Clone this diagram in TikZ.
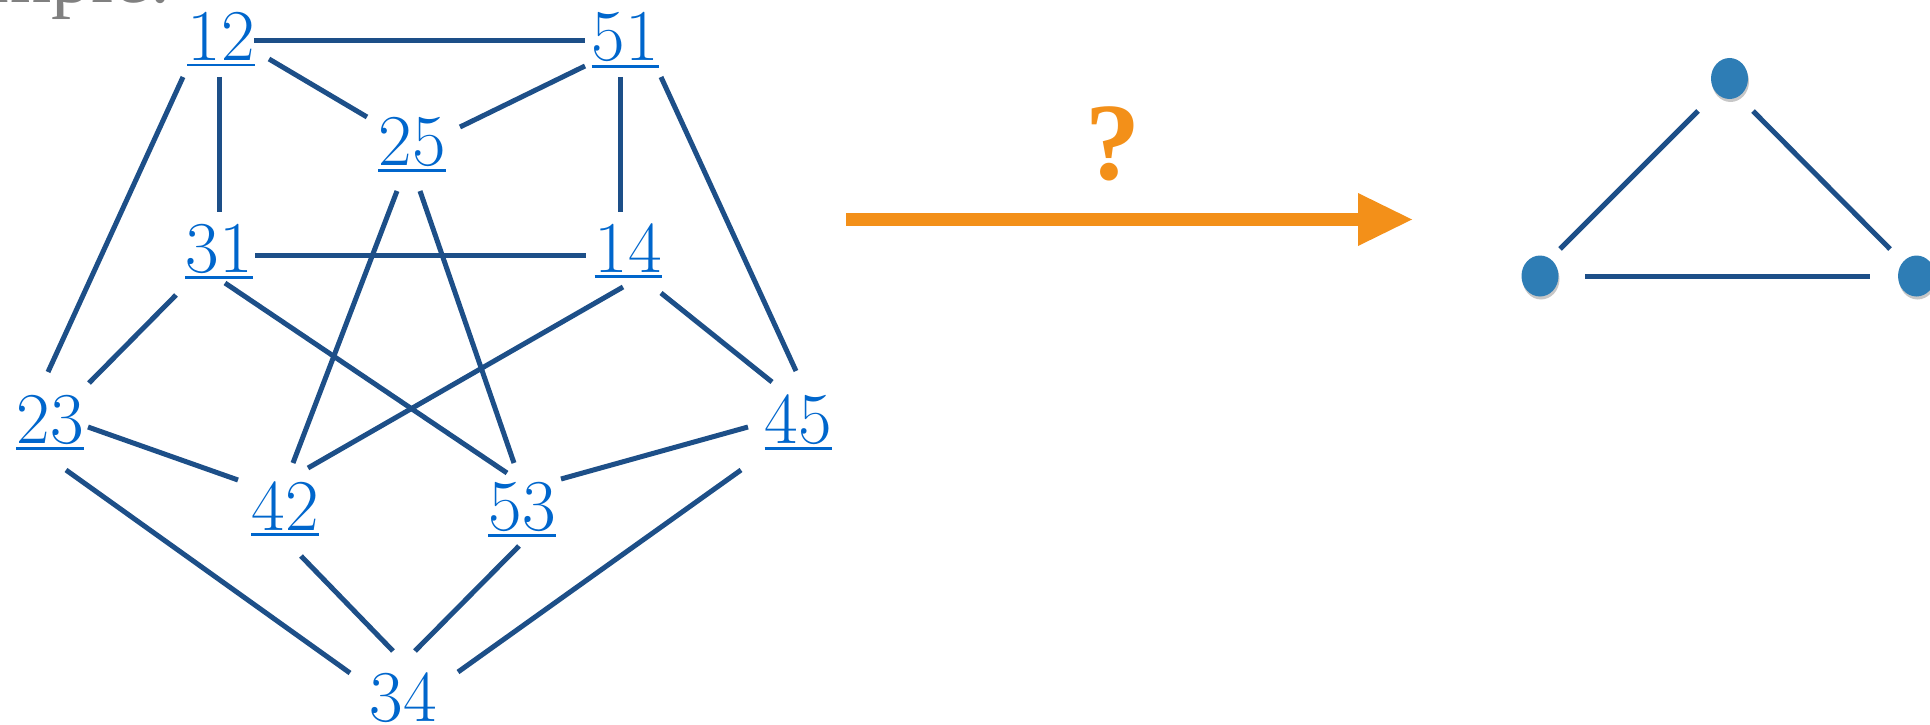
\documentclass[tikz,border=0pt]{standalone}
\usepackage{fontspec}
\usetikzlibrary{shapes.geometric,shadows}
\newfontfamily\qfont{Liberation Serif}
\definecolor{lblue}{HTML}{0066CC}
\definecolor{eblue}{HTML}{1D4F88}
\definecolor{dblue}{HTML}{2E7DB5}
\definecolor{aorange}{HTML}{F39019}
\definecolor{graytxt}{HTML}{808080}
\newcommand{\ulbl}[1]{\vtop{\hbox{#1}\kern3pt\hrule height 2.5pt}}
\begin{document}
\begin{tikzpicture}[x=1pt,y=-1pt,
  lbl/.style={inner sep=0pt, anchor=base, text=lblue, font=\fontsize{73}{80}\selectfont},
  edge/.style={draw=eblue, line width=5pt},
  dot/.style={ellipse, fill=dblue, minimum width=37pt, minimum height=41pt, inner sep=0pt,
    drop shadow={shadow xshift=1pt, shadow yshift=-3pt, opacity=0.22, fill=black}},
]
\useasboundingbox (0,0) rectangle (1930,725);
% cropped title
\node[anchor=base east, inner sep=0pt, text=graytxt, font=\qfont\fontsize{80}{88}\selectfont] (ex) at (172,3) {Example:};
% labels
\node[lbl] (n12) at (221,61) {\ulbl{12}};
\node[lbl] (n51) at (625,61) {\ulbl{51}};
\node[lbl] (n25) at (412,165) {\ulbl{25}};
\node[lbl] (n31) at (219,272) {\ulbl{31}};
\node[lbl] (n14) at (628,272) {\ulbl{14}};
\node[lbl] (n23) at (50,443) {\ulbl{23}};
\node[lbl] (n45) at (798,443) {\ulbl{45}};
\node[lbl] (n42) at (285,530) {\ulbl{42}};
\node[lbl] (n53) at (522,530) {\ulbl{53}};
\node[lbl] (n34) at (403,721) {34};
% edges
\draw[edge] ([shift={(33,-20)}]n12.base) -- ([shift={(-40,-20)}]n51.base);
\draw[edge] ([shift={(48,-2)}]n12.base) -- ([shift={(-45,-48)}]n25.base);
\draw[edge] ([shift={(-40,5)}]n51.base) -- ([shift={(48,-38)}]n25.base);
\draw[edge] ([shift={(-2,16)}]n12.base) -- ([shift={(0,-60)}]n31.base);
\draw[edge] ([shift={(-5,16)}]n51.base) -- ([shift={(-8,-60)}]n14.base);
\draw[edge] ([shift={(-38,16)}]n12.base) -- ([shift={(-2,-71)}]n23.base);
\draw[edge] ([shift={(36,16)}]n51.base) -- ([shift={(-2,-72)}]n45.base);
\draw[edge] ([shift={(36,-17)}]n31.base) -- ([shift={(-42,-17)}]n14.base);
\draw[edge] ([shift={(-15,26)}]n25.base) -- ([shift={(8,-67)}]n42.base);
\draw[edge] ([shift={(8,26)}]n25.base) -- ([shift={(-8,-67)}]n53.base);
\draw[edge] ([shift={(-43,23)}]n31.base) -- ([shift={(39,-60)}]n23.base);
\draw[edge] ([shift={(6,11)}]n31.base) -- ([shift={(-15,-57)}]n53.base);
\draw[edge] ([shift={(-5,15)}]n14.base) -- ([shift={(23,-62)}]n42.base);
\draw[edge] ([shift={(33,21)}]n14.base) -- ([shift={(-26,-61)}]n45.base);
\draw[edge] ([shift={(38,-16)}]n23.base) -- ([shift={(-47,-50)}]n42.base);
\draw[edge] ([shift={(-50,-16)}]n45.base) -- ([shift={(39,-51)}]n53.base);
\draw[edge] ([shift={(16,27)}]n23.base) -- ([shift={(-53,-48)}]n34.base);
\draw[edge] ([shift={(16,26)}]n42.base) -- ([shift={(-10,-70)}]n34.base);
\draw[edge] ([shift={(-3,16)}]n53.base) -- ([shift={(12,-70)}]n34.base);
\draw[edge] ([shift={(-57,27)}]n45.base) -- ([shift={(55,-49)}]n34.base);
% arrow
\node[inner sep=0pt, anchor=base, text=aorange, font=\qfont\bfseries\fontsize{110}{120}\selectfont] (q) at (1112.5,179) {?};
\coordinate (aS) at (846,219.5);
\coordinate (aB) at (1358,219.5);
\coordinate (aT) at (1412,219.5);
\draw[aorange, line width=13pt] (aS) -- ([xshift=1pt]aB);
\fill[aorange] ([yshift=26.5pt]aB) -- (aT) -- ([yshift=-26.5pt]aB) -- cycle;
% triangle graph
\node[dot] (t) at (1729.5,78.5) {};
\node[dot] (l) at (1540,276) {};
\node[dot] (r) at (1916.5,276) {};
\draw[edge] ([shift={(-31.5,32.5)}]t.center) -- ([shift={(20,-27)}]l.center);
\draw[edge] ([shift={(23.5,32.5)}]t.center) -- ([shift={(-26.5,-27)}]r.center);
\draw[edge] ([shift={(45,0)}]l.center) -- ([shift={(-46.5,0)}]r.center);
\end{tikzpicture}
\end{document}
